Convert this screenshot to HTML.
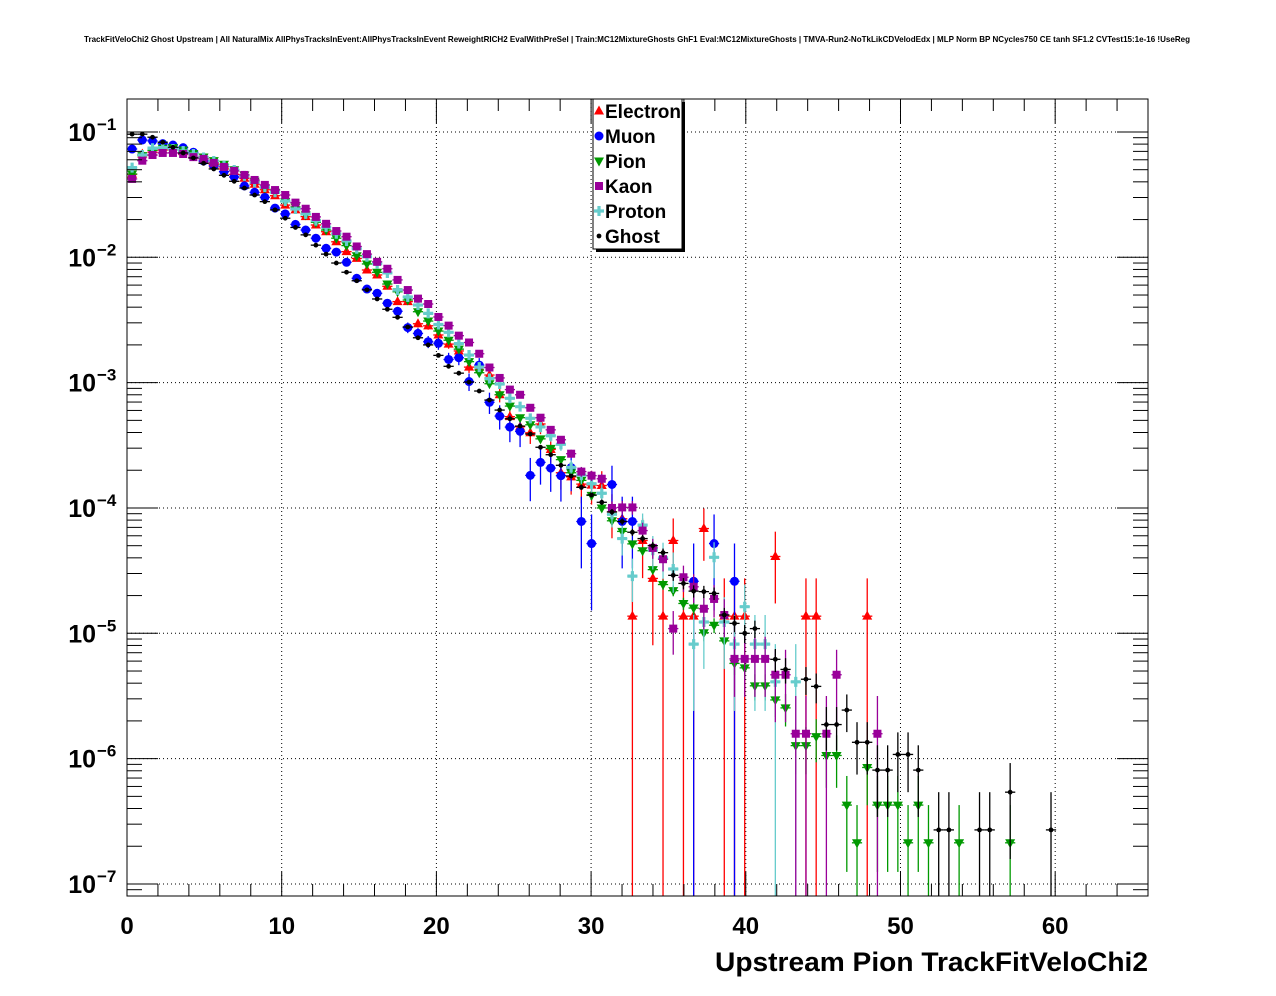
<!DOCTYPE html>
<html><head><meta charset="utf-8">
<style>
html,body{margin:0;padding:0;background:#fff;}
svg{display:block;font-family:"Liberation Sans",Arial,sans-serif;}
</style></head>
<body>
<svg id="chart" width="1276" height="996" viewBox="0 0 1276 996" xmlns="http://www.w3.org/2000/svg">
<rect x="0" y="0" width="1276" height="996" fill="#fff"/>
<text x="84" y="42" font-size="8.2" font-weight="bold" textLength="1106" lengthAdjust="spacingAndGlyphs">TrackFitVeloChi2 Ghost Upstream | All NaturalMix AllPhysTracksInEvent:AllPhysTracksInEvent ReweightRICH2 EvalWithPreSel | Train:MC12MixtureGhosts GhF1 Eval:MC12MixtureGhosts | TMVA-Run2-NoTkLikCDVelodEdx | MLP Norm BP NCycles750 CE tanh SF1.2 CVTest15:1e-16 !UseReg</text>
<g id="grid"></g>
<g id="marks"></g>
<rect x="127" y="99" width="1021" height="797" fill="none" stroke="#000" stroke-width="1"/>
<g id="axes"></g>
<text x="715" y="971" font-size="27" font-weight="bold" textLength="433" lengthAdjust="spacingAndGlyphs">Upstream Pion TrackFitVeloChi2</text>
<g>
<rect x="596" y="102" width="89" height="150" fill="#000"/>
<rect x="593" y="99" width="89" height="150" fill="#fff" stroke="#000" stroke-width="1"/>
<g id="legend-items"></g>
</g>
</svg>
<script>
// ---- data ----
const binWidth = 0.66;
const xTicks = [0, 10, 20, 30, 40, 50, 60];
const yDecades = [-7, -6, -5, -4, -3, -2, -1];
const seriesNames = ["Electron", "Muon", "Pion", "Kaon", "Proton", "Ghost"];
const electron = [0.046,0.0665,0.0689,0.0718,0.0718,0.0697,0.0655,0.0609,0.0552,0.0507,0.0459,0.0427,0.0383,0.0346,0.031,0.0261,0.0239,0.0211,0.0181,0.016,0.0133,0.0111,0.0098,0.00792,0.00723,0.00587,0.00443,0.00443,0.00295,0.00284,0.0024,0.00203,0.00179,0.00133,0.00133,0.00115,0.0008,0.000535,0.000445,0.000398,0.000468,0.000293,0.000191,0.000177,0.000155,0.000152,0.000151,9.3e-5,8.2e-5,1.37e-5,5.5e-5,2.74e-5,1.37e-5,5.5e-5,1.37e-5,1.37e-5,6.85e-5,null,1.37e-5,1.37e-5,1.37e-5,null,null,4.1e-5,null,null,1.37e-5,1.37e-5,null,null,null,null,1.37e-5];
const muon = [0.0731,0.0863,0.0848,0.0807,0.0787,0.075,0.0689,0.0587,0.0536,0.0482,0.0438,0.0371,0.033,0.0301,0.0247,0.0222,0.0183,0.0165,0.0142,0.0118,0.011,0.00912,0.0068,0.00558,0.00516,0.0043,0.00371,0.00275,0.00247,0.00212,0.00206,0.00153,0.00158,0.00102,0.00138,0.000697,0.000541,0.000442,0.000409,0.000182,0.000231,0.000208,0.000181,0.00021,7.8e-5,5.2e-5,null,1.54e-4,7.8e-5,7.8e-5,null,null,null,null,null,2.6e-5,null,5.2e-5,null,2.6e-5];
const pion = [0.0462,0.0647,0.0714,0.0741,0.075,0.0718,0.0671,0.0631,0.059,0.0552,0.05,0.0454,0.0404,0.0357,0.033,0.0278,0.0252,0.0218,0.019,0.0165,0.0142,0.0124,0.0103,0.00885,0.00759,0.00612,0.00531,0.00456,0.00368,0.0031,0.00258,0.00218,0.00185,0.00147,0.0012,0.00098,0.0008,0.00065,0.000525,0.000461,0.000356,0.000299,0.000243,0.000191,0.000166,0.000126,0.0001,7.9e-5,6.5e-5,5.17e-5,4.56e-5,3.22e-5,2.45e-5,2.19e-5,1.73e-5,1.59e-5,1.01e-5,1.16e-5,8.7e-6,5.75e-6,5.3e-6,3.81e-6,3.81e-6,2.94e-6,2.54e-6,1.27e-6,1.27e-6,1.5e-6,1.06e-6,1.06e-6,4.26e-7,2.13e-7,8.5e-7,4.26e-7,4.26e-7,4.26e-7,2.13e-7,4.26e-7,2.13e-7,null,null,2.13e-7,null,null,null,null,2.13e-7];
const kaon = [0.0422,0.059,0.0655,0.068,0.068,0.0667,0.063,0.061,0.0566,0.0526,0.0489,0.0454,0.0414,0.0378,0.0344,0.0314,0.0273,0.0244,0.021,0.0185,0.0162,0.0146,0.0122,0.0106,0.0092,0.0081,0.0066,0.00548,0.00468,0.00424,0.00334,0.00285,0.00237,0.00209,0.0017,0.00132,0.00109,0.00088,0.0008,0.00063,0.000525,0.00042,0.00035,0.000271,0.000195,0.000181,0.000171,0.0001,0.000101,0.000101,6.6e-5,4.8e-5,3.9e-5,1.09e-5,2.8e-5,2.35e-5,1.57e-5,1.88e-5,1.4e-5,6.25e-6,6.25e-6,6.25e-6,6.25e-6,4.67e-6,4.67e-6,1.58e-6,1.58e-6,null,1.58e-6,4.67e-6,null,null,null,1.58e-6];
const proton = [0.0519,0.0655,0.0741,0.075,0.0731,0.0705,0.0667,0.0626,0.0587,0.0536,0.0497,0.0446,0.0397,0.0364,0.033,0.0281,0.0243,0.0222,0.0196,0.0174,0.0154,0.0135,0.0117,0.0101,0.0089,0.0075,0.00548,0.00482,0.00416,0.00357,0.00291,0.00252,0.00205,0.00166,0.00133,0.00108,0.000975,0.00075,0.000643,0.000519,0.000443,0.000377,0.000322,0.000211,0.000183,0.000156,0.000131,8.9e-5,5.7e-5,2.86e-5,7.3e-5,4.6e-5,4.0e-5,3.26e-5,null,8.2e-6,1.23e-5,4.04e-5,1.23e-5,8.2e-6,1.63e-5,8.2e-6,8.2e-6,4.1e-6,null,4.1e-6];
const ghost = [0.096,0.096,0.0908,0.0828,0.0755,0.068,0.062,0.0562,0.0507,0.0451,0.0404,0.0357,0.0314,0.0278,0.0239,0.0205,0.0173,0.0151,0.0125,0.0106,0.009,0.0076,0.0065,0.0055,0.00465,0.00385,0.00332,0.00278,0.00228,0.002,0.00165,0.00135,0.00119,0.00101,0.000857,0.000726,0.000604,0.000515,0.00045,0.000389,0.000305,0.000266,0.000219,0.00018,0.000146,0.000127,0.000111,9.3e-5,7.8e-5,6.4e-5,5.7e-5,5.0e-5,4.4e-5,2.9e-5,2.5e-5,2.17e-5,2.15e-5,2.08e-5,1.4e-5,1.2e-5,1.0e-5,1.09e-5,null,6.2e-6,5.15e-6,null,4.3e-6,3.77e-6,1.87e-6,1.87e-6,2.44e-6,1.35e-6,1.35e-6,8.1e-7,8.1e-7,1.08e-6,1.08e-6,8.1e-7,null,2.7e-7,2.7e-7,null,null,2.7e-7,2.7e-7,null,5.4e-7,null,null,null,2.7e-7];
// weight of a single entry per species (used for statistical error bars)
const entryWeights = [1.37e-5, 2.6e-5, 2.13e-7, 1.58e-6, 4.1e-6, 2.7e-7];

// ---- scales ----
const X0 = 127, X1 = 1148, Y0 = 99, Y1 = 896;
const xMin = 0, xMax = 66;
const logMin = -7.096, logMax = -0.737;
function xs(v){ return X0 + (v - xMin) / (xMax - xMin) * (X1 - X0); }
function ys(v){ return Y1 - (Math.log10(v) - logMin) / (logMax - logMin) * (Y1 - Y0); }

const NS = "http://www.w3.org/2000/svg";
function mk(tag, attrs, parent){
  const e = document.createElementNS(NS, tag);
  for (const k in attrs) e.setAttribute(k, attrs[k]);
  parent.appendChild(e);
  return e;
}
const grid = document.getElementById('grid');
const axes = document.getElementById('axes');
const marks = document.getElementById('marks');

// grid + x ticks
xTicks.forEach(t => {
  const x = xs(t);
  if (t > xMin) {
    const g = mk('line', {x1:x, x2:x, y1:Y0, y2:Y1, stroke:'#000', 'stroke-width':1, 'stroke-dasharray':'1,3'}, grid);
    
    
  }
  const lb = mk('text', {x:x, y:934, 'font-size':24, 'font-weight':'bold', 'text-anchor':'middle'}, axes);
  lb.textContent = String(t);
  
  
});
for (let v = xMin; v <= xMax; v += 2) {
  const x = xs(v);
  const major = (v % 10 === 0);
  const L = major ? 24 : 12;
  const a = mk('line', {x1:x, x2:x, y1:Y1, y2:Y1 - L, stroke:'#000', 'stroke-width':1}, axes);
  
  
  const b = mk('line', {x1:x, x2:x, y1:Y0, y2:Y0 + L, stroke:'#000', 'stroke-width':1}, axes);
  
  
}
// y ticks
for (let d = -8; d <= 0; d++) {
  for (let m = 1; m <= 9; m++) {
    const v = m * Math.pow(10, d);
    const lv = Math.log10(v);
    if (lv < logMin || lv > logMax) continue;
    const y = ys(v);
    const L = m === 1 ? 31 : 15;
    const a = mk('line', {x1:X0, x2:X0 + L, y1:y, y2:y, stroke:'#000', 'stroke-width':1}, axes);
    
    
    const b = mk('line', {x1:X1, x2:X1 - L, y1:y, y2:y, stroke:'#000', 'stroke-width':1}, axes);
    
    
  }
}
yDecades.forEach(d => {
  const y = ys(Math.pow(10, d));
  const g = mk('line', {x1:X0, x2:X1, y1:y, y2:y, stroke:'#000', 'stroke-width':1, 'stroke-dasharray':'1,3'}, grid);
  
  
  const t = mk('text', {x:96, y:y + 9, 'font-size':25, 'font-weight':'bold', 'text-anchor':'end'}, axes);
  t.textContent = '10';
  
  
  const s = mk('text', {x:97, y:y - 2, 'font-size':17, 'font-weight':'bold'}, axes);
  s.textContent = '\u2212' + String(-d);
  
  
});

// markers
const colors = ['#ff0000', '#0000ff', '#009900', '#990099', '#66cccc', '#000000'];
function marker(type, cx, cy, col, parent){
  let e;
  if (type === 0) e = mk('polygon', {points:`${cx},${cy-5.5} ${cx-5},${cy+3.5} ${cx+5},${cy+3.5}`, fill:col}, parent);
  else if (type === 1) e = mk('circle', {cx:cx, cy:cy, r:4.5, fill:col}, parent);
  else if (type === 2) e = mk('polygon', {points:`${cx},${cy+5.5} ${cx-5},${cy-3.5} ${cx+5},${cy-3.5}`, fill:col}, parent);
  else if (type === 3) e = mk('rect', {x:cx-4, y:cy-4, width:8, height:8, fill:col}, parent);
  else if (type === 4) e = mk('path', {d:`M${cx-5},${cy-1.6}h3.4v-3.4h3.2v3.4h3.4v3.2h-3.4v3.4h-3.2v-3.4h-3.4z`, fill:col}, parent);
  else e = mk('circle', {cx:cx, cy:cy, r:2.4, fill:col}, parent);
  return e;
}
const allSeries = [electron, muon, pion, kaon, proton, ghost];
const drawOrder = [0, 1, 2, 4, 3, 5];
drawOrder.forEach(si => {
  const data = allSeries[si];
  const col = colors[si];
  const w = entryWeights[si];
  const g = mk('g', {}, marks);
  
  
  data.forEach((v, i) => {
    if (v == null || v <= 0) return;
    const xc = (i + 0.5) * binWidth;
    const cx = xs(xc), cy = ys(v);
    const err = Math.sqrt(v * w);
    const yTop = ys(v + err);
    const yBot = (v - err) > Math.pow(10, logMin) ? ys(v - err) : Y1;
    const eb = mk('line', {x1:cx, x2:cx, y1:yTop, y2:yBot, stroke:col, 'stroke-width':1.3}, g);
    
    
    const hb = mk('line', {x1:xs(xc - binWidth/2), x2:xs(xc + binWidth/2), y1:cy, y2:cy, stroke:col, 'stroke-width':1.3}, g);
    
    
    const m = marker(si, cx, cy, col, g);
    
    
  });
});

// legend
const leg = document.getElementById('legend-items');
seriesNames.forEach((n, i) => {
  const y = 111 + i * 25;
  const g = mk('g', {}, leg);
  
  
  const sm = marker(i, 599, y, colors[i], g);
  
  
  const t = mk('text', {x:605, y:y + 7, 'font-size':19, 'font-weight':'bold'}, g);
  t.textContent = n;
  
  
});
</script>
</body></html>
